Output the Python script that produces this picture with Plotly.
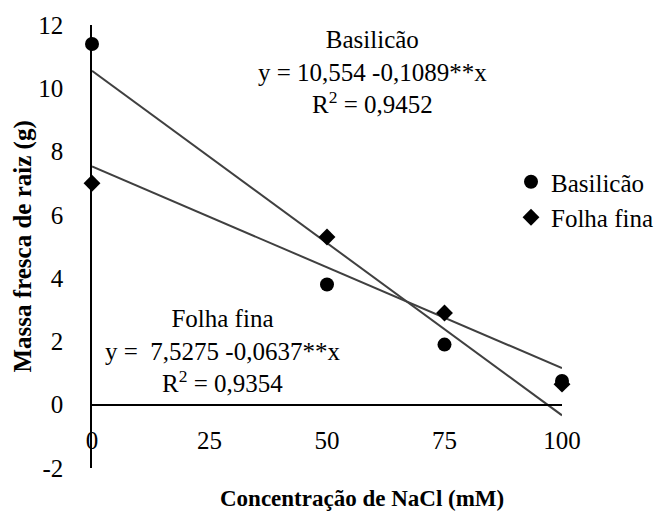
import plotly.graph_objects as go

# Data
nacl = [0, 50, 75, 100]
basilicao = [11.4, 3.8, 1.9, 0.75]
folha_fina = [7.0, 5.3, 2.9, 0.65]

trend_x = [0, 100]
basilicao_trend = [10.554, -0.336]
folha_fina_trend = [7.5275, 1.1575]

x_ticks = [0, 25, 50, 75, 100]
y_ticks = [-2, 0, 2, 4, 6, 8, 10, 12]

FONT = "Liberation Serif"
# page body has an 8px margin, so the figure is a bit smaller than the window
W, H = 655, 510
ml, mt = 84, 17
pw, ph = 470, 443
mr, mb = W - ml - pw, H - mt - ph

fig = go.Figure()
fig.add_trace(go.Scatter(x=trend_x, y=basilicao_trend, mode="lines",
                         line=dict(color="#404040", width=2), showlegend=False,
                         hoverinfo="skip"))
fig.add_trace(go.Scatter(x=trend_x, y=folha_fina_trend, mode="lines",
                         line=dict(color="#404040", width=2), showlegend=False,
                         hoverinfo="skip"))
fig.add_trace(go.Scatter(x=nacl, y=basilicao, mode="markers", name="Basilicão",
                         marker=dict(symbol="circle", size=14, color="black"),
                         cliponaxis=False))
fig.add_trace(go.Scatter(x=nacl, y=folha_fina, mode="markers", name="Folha fina",
                         marker=dict(symbol="diamond", size=13, color="black"),
                         cliponaxis=False))

ymin, ymax = -2, 12
zero_pos = (0 - ymin) / (ymax - ymin)

fig.update_layout(
    width=W, height=H,
    margin=dict(l=ml, r=mr, t=mt, b=mb, autoexpand=False),
    plot_bgcolor="white", paper_bgcolor="white",
    font=dict(family=FONT, size=25, color="black"),
    showlegend=True,
    legend=dict(x=(503 - ml) / pw, y=1 - (151 - mt) / ph, xanchor="left", yanchor="top",
                bgcolor="rgba(0,0,0,0)", font=dict(size=25, family=FONT),
                tracegroupgap=0, itemwidth=30),
    xaxis=dict(range=[0, 100], tickvals=x_ticks, ticktext=[str(v) for v in x_ticks],
               showgrid=False, zeroline=False, showline=True, linecolor="black",
               linewidth=1.5, anchor="free", position=zero_pos, ticks="",
               automargin=False,
               ticklabelstandoff=14, tickfont=dict(size=25, family=FONT)),
    yaxis=dict(range=[ymin, ymax], tickvals=y_ticks, ticktext=[str(v) for v in y_ticks],
               showgrid=False, zeroline=False, showline=True, linecolor="black",
               linewidth=1.5, ticks="", ticklabelstandoff=22, automargin=False,
               tickfont=dict(size=25, family=FONT)),
    annotations=[
        dict(x=59.6, y=10.5, xref="x", yref="y",
             text="Basilicão<br>y = 10,554 -0,1089**x<br>R<sup>2</sup> = 0,9452",
             showarrow=False, align="center", font=dict(size=25, family=FONT),
             xanchor="center", yanchor="middle"),
        dict(x=27.7, y=1.7, xref="x", yref="y",
             text="Folha fina<br>y =  7,5275 -0,0637**x<br>R<sup>2</sup> = 0,9354",
             showarrow=False, align="center", font=dict(size=25, family=FONT),
             xanchor="center", yanchor="middle"),
        dict(x=(354 - ml) / pw, y=-(490 - (mt + ph)) / ph,
             xref="paper", yref="paper",
             text="<b>Concentração de NaCl (mM)</b>", showarrow=False,
             font=dict(size=23, family=FONT), xanchor="center", yanchor="middle"),
        dict(x=(14 - ml) / pw, y=0.5, xref="paper", yref="paper", textangle=-90,
             text="<b>Massa fresca de raiz (g)</b>", showarrow=False,
             font=dict(size=25, family=FONT), xanchor="center", yanchor="middle"),
    ],
)

fig.write_html("out.html")
